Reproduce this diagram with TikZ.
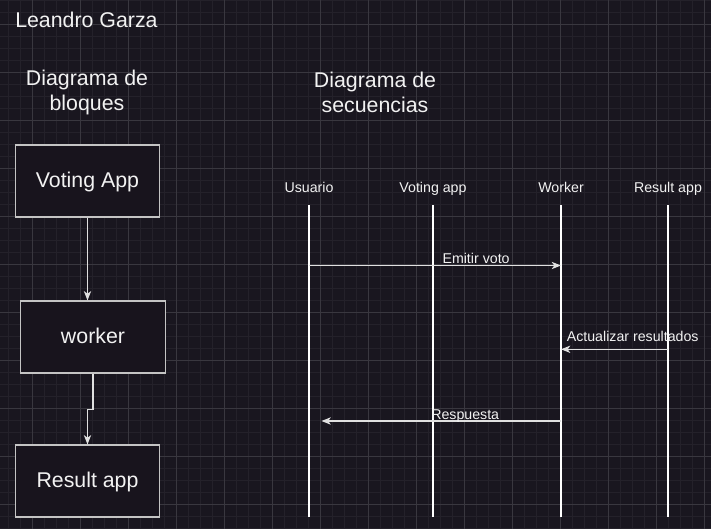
\documentclass[tikz,border=0pt]{standalone}
\usepackage{fontspec}
\setmainfont{Liberation Sans}
\usetikzlibrary{arrows.meta,positioning}

\definecolor{canvas}{HTML}{19161F}
\definecolor{gridminor}{HTML}{24212A}
\definecolor{gridmajor}{HTML}{39373F}
\definecolor{boxfill}{HTML}{18141D}
\definecolor{boxline}{HTML}{C4C4C4}
\definecolor{ink}{HTML}{F2F2F2}

\begin{document}
\begin{tikzpicture}[
    x=0.75pt, y=-0.75pt,
    title/.style={text=ink, font=\fontsize{16}{19}\selectfont, align=center, inner sep=0pt},
    box/.style={rectangle, draw=boxline, fill=boxfill, line width=0.9pt, minimum width=108.5pt, minimum height=54pt, text height=11.5pt, text depth=2.1pt, text=ink, font=\fontsize{16}{19}\selectfont},
    label/.style={text=ink, font=\fontsize{10.65}{12.8}\selectfont, inner sep=0pt},
    msg/.style={label, anchor=base},
    life/.style={draw=white, line width=1.1pt},
    arrow/.style={-{Stealth[length=7pt, width=5.5pt, inset=2pt]}, draw=white!88!black, line width=0.8pt}
]
    % Canvas and grid
    \fill[canvas] (0,0) rectangle (711,529);
    \useasboundingbox (0,0) rectangle (711,529);
    \foreach \x in {8.5,20.5,...,704.5} \draw[gridminor, line width=0.75pt] (\x,0) -- (\x,529);
    \foreach \y in {0,12,...,528} \draw[gridminor, line width=0.75pt] (0,\y) -- (711,\y);
    \foreach \x in {32.5,80.5,...,704.5} \draw[gridmajor, line width=0.75pt] (\x,0) -- (\x,529);
    \foreach \y in {24,72,...,504} \draw[gridmajor, line width=0.75pt] (0,\y) -- (711,\y);

    % Titles
    \node[title, anchor=west] (author) at (15,19.5) {Leandro Garza};
    \node[title] (blocktitle) at (87,92.5) {Diagrama de\\bloques};
    \node[title] (seqtitle) at (375,92.5) {Diagrama de\\secuencias};

    % Block diagram
    \node[box] (vapp) at (87.5,181) {Voting App};
    \node[box] (worker) at (93,337) {worker};
    \node[box] (result) at (87.5,481) {Result app};

    \draw[arrow] (vapp.south) -- (vapp.south |- worker.north);
    \draw[arrow] (worker.south) -- ++(0,36) -| (result.north);

    % Sequence diagram: participants and lifelines
    \foreach \name/\x/\txt in {usuario/309/Usuario, votingapp/433/Voting app, wrk/561/Worker, resultapp/668/Result app} {
        \node[label, anchor=base] (\name) at (\x,192) {\txt};
        \coordinate (\name-top) at (\x,205);
        \coordinate (\name-end) at (\x,517);
        \draw[life] (\name-top) -- (\name-end);
    }

    % Messages
    \coordinate (emit-a) at (309,265.5);
    \coordinate (emit-b) at (561,265.5);
    \coordinate (upd-a) at (668,349.3);
    \coordinate (upd-b) at (561,349.3);
    \coordinate (resp-a) at (561,421);
    \coordinate (resp-b) at (321.5,421);

    \draw[arrow] (emit-a) -- node[msg, pos=0.663, yshift=1.8pt] (emit) {Emitir voto} (emit-b);
    \draw[arrow] (upd-a) -- node[msg, pos=0.33, yshift=5.7pt] (upd) {Actualizar resultados} (upd-b);
    \draw[arrow] (resp-a) -- node[msg, pos=0.40, yshift=1.5pt] (resp) {Respuesta} (resp-b);
\end{tikzpicture}
\end{document}
